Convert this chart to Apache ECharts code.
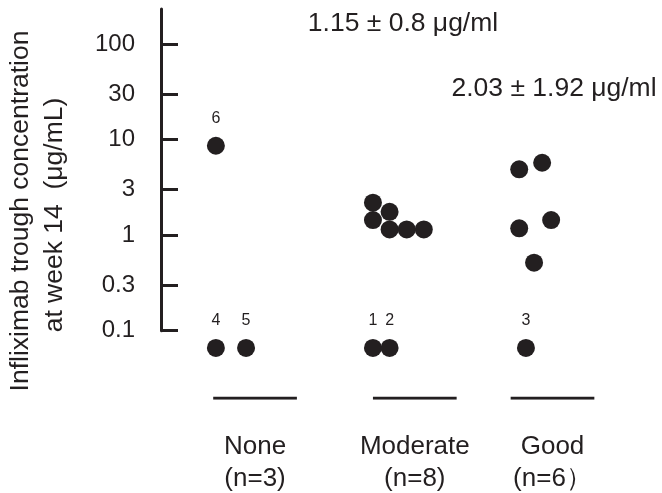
<!DOCTYPE html>
<html>
<head>
<meta charset="utf-8">
<script src="https://cdn.jsdelivr.net/npm/echarts@6/dist/echarts.min.js"></script>
<style>
  html, body { margin: 0; padding: 0; background: #fff; }
  #chart { width: 662px; height: 493px; }
</style>
</head>
<body>
<div id="chart"></div>
<script>
// groups along the bottom
const groupNames = ['None', 'Moderate', 'Good']
const groupCounts = ['(n=3)', '(n=8)', '(n=6）']
const groupCenters = [20.9, 56.4, 87.0]
const groupMeans = ['', '1.15 ± 0.8 μg/ml', '2.03 ± 1.92 μg/ml']
const yTicks = [0.1, 0.3, 1, 3, 10, 30, 100]

// trough concentration per patient, with horizontal jitter and patient id
const noneValues = [8.65, 0.066, 0.066]
const noneJitter = [-8.7, -8.7, -2.0]
const noneIds = ['6', '4', '5']

const moderateValues = [2.19, 1.44, 1.76, 1.15, 1.15, 1.15, 0.066, 0.066]
const moderateJitter = [-9.3, -9.3, -5.6, -5.6, -1.8, 2.0, -9.3, -5.6]
const moderateIds = ['', '', '', '', '', '', '1', '2']

const goodValues = [4.90, 5.74, 1.18, 1.44, 0.515, 0.066]
const goodJitter = [-7.4, -2.3, -7.4, -0.3, -4.1, -5.9]
const goodIds = ['', '', '', '', '', '3']

const ink = '#231f20'
const font = '"Liberation Sans", Arial, Helvetica, sans-serif'
const halfBar = 9.3

const groupValues = [noneValues, moderateValues, goodValues]
const groupJitter = [noneJitter, moderateJitter, goodJitter]
const groupIds = [noneIds, moderateIds, goodIds]

const chart = echarts.init(document.getElementById('chart'))

const scatterSeries = groupNames.map((name, g) => ({
  name: name,
  type: 'scatter',
  xAxisIndex: 0,
  yAxisIndex: 0,
  clip: false,
  symbol: 'circle',
  symbolSize: 18,
  itemStyle: { color: ink, opacity: 1 },
  label: {
    show: true,
    position: 'top',
    distance: 10,
    color: ink,
    fontSize: 16,
    fontFamily: font,
    formatter: (p) => groupIds[g][p.dataIndex]
  },
  data: groupValues[g].map((v, i) => [groupCenters[g] + groupJitter[g][i], v])
}))

const barSeries = groupNames.map((name, g) => ({
  name: name + ' bar',
  type: 'line',
  xAxisIndex: 1,
  yAxisIndex: 1,
  symbol: 'none',
  lineStyle: { color: ink, width: 3 },
  data: [[groupCenters[g] - halfBar, 0], [groupCenters[g] + halfBar, 0]]
}))

chart.setOption({
  animation: false,
  backgroundColor: '#fff',
  grid: [
    { left: 161, top: 9, width: 450, height: 321.7, outerBoundsMode: 'none' },
    { left: 161, top: 380, width: 450, height: 18.3, outerBoundsMode: 'none' }
  ],
  xAxis: [
    { gridIndex: 0, type: 'value', min: 0, max: 100, show: false },
    {
      gridIndex: 1,
      type: 'value',
      min: 0,
      max: 100,
      axisLine: { show: false },
      axisTick: { show: false },
      splitLine: { show: false },
      axisLabel: {
        customValues: groupCenters,
        margin: 32,
        color: ink,
        fontSize: 26,
        fontFamily: font,
        lineHeight: 32.5,
        formatter: (v) => {
          const g = groupCenters.indexOf(v)
          return groupNames[g] + '\n' + groupCounts[g]
        }
      }
    }
  ],
  yAxis: [
    {
      gridIndex: 0,
      type: 'log',
      min: 0.1,
      max: 234,
      axisLine: { show: true, lineStyle: { color: ink, width: 3 } },
      axisTick: { show: true, inside: true, length: 17, lineStyle: { color: ink, width: 3 }, customValues: yTicks },
      axisLabel: { customValues: yTicks, margin: 26, color: ink, fontSize: 24, fontFamily: font },
      splitLine: { show: false },
      minorTick: { show: false }
    },
    { gridIndex: 1, type: 'value', min: 0, max: 1, show: false }
  ],
  graphic: [
    {
      type: 'text', x: 21, y: 211, rotation: Math.PI / 2,
      style: { text: 'Infliximab trough concentration', fill: ink, font: '26.5px ' + font, textAlign: 'center', textVerticalAlign: 'middle' }
    },
    {
      type: 'text', x: 55, y: 215, rotation: Math.PI / 2,
      style: { text: 'at week 14  (μg/mL)', fill: ink, font: '26.5px ' + font, textAlign: 'center', textVerticalAlign: 'middle' }
    },
    {
      type: 'text', x: 403, y: 24,
      style: { text: groupMeans[1], fill: ink, font: '26.5px ' + font, textAlign: 'center', textVerticalAlign: 'middle' }
    },
    {
      type: 'text', x: 554, y: 89,
      style: { text: groupMeans[2], fill: ink, font: '26.5px ' + font, textAlign: 'center', textVerticalAlign: 'middle' }
    }
  ],
  series: scatterSeries.concat(barSeries)
})
</script>
</body>
</html>
